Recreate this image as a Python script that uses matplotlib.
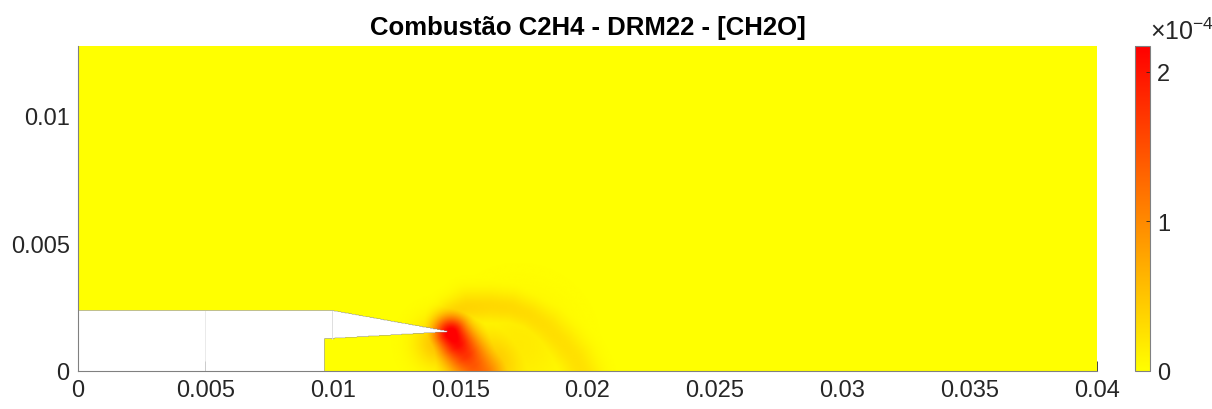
import numpy as np
import matplotlib.pyplot as plt
from matplotlib.path import Path

plt.rcParams['font.family'] = ['Liberation Sans', 'DejaVu Sans']
plt.rcParams['mathtext.fontset'] = 'custom'
plt.rcParams['mathtext.rm'] = 'Liberation Sans'
plt.rcParams['mathtext.it'] = 'Liberation Sans'

# domain (m)
x_max = 0.04
y_max = 0.0127

# splitter plate / inlet outline (white, no data)
plate_x = [-0.001, 0.00967, 0.00967, 0.0146, 0.00997, -0.001]
plate_y = [-0.001, -0.001, 0.00125, 0.00153, 0.00236, 0.00236]

# CH2O ridges: points (m), peak (x1e-4), half width (m)
core_x = [0.01465, 0.01490, 0.01520, 0.01550, 0.01575]
core_y = [0.00145, 0.00105, 0.00065, 0.00025, -0.00010]
core_v = [2.35, 2.10, 1.75, 1.45, 1.30]
core_w = [0.00050, 0.00055, 0.00060, 0.00065, 0.00070]

arc_x = [0.01440, 0.01470, 0.01530, 0.01620, 0.01700, 0.01770,
         0.01840, 0.01900, 0.01950, 0.01980]
arc_y = [0.00170, 0.00220, 0.00248, 0.00252, 0.00245, 0.00218,
         0.00170, 0.00110, 0.00050, -0.00010]
arc_v = [0.45, 0.40, 0.36, 0.33, 0.32, 0.30, 0.28, 0.27, 0.26, 0.25]
arc_w = [0.00035, 0.00040, 0.00045, 0.00045, 0.00045, 0.00045,
         0.00050, 0.00050, 0.00050, 0.00050]

# diffuse glow around the flame
glow_x = [0.01420, 0.01610, 0.01730]
glow_y = [0.00110, 0.00020, 0.00100]
glow_v = [0.55, 0.50, 0.18]
glow_w = [0.00065, 0.00095, 0.00130]

cb_ticks = [0, 1e-4, 2e-4]
cb_labels = ['0', '1', '2']
c_max = 2.17e-4


def ridge(X, Y, px, py, pv, pw):
    out = np.zeros_like(X)
    for i in range(len(px) - 1):
        dx, dy = px[i + 1] - px[i], py[i + 1] - py[i]
        t = ((X - px[i]) * dx + (Y - py[i]) * dy) / (dx * dx + dy * dy)
        t = np.clip(t, 0, 1)
        d2 = (X - px[i] - t * dx)**2 + (Y - py[i] - t * dy)**2
        v = pv[i] + t * (pv[i + 1] - pv[i])
        w = pw[i] + t * (pw[i + 1] - pw[i])
        out = np.maximum(out, v * np.exp(-d2 / (2 * w**2)))
    return out


xg = np.linspace(0, x_max, 1600)
yg = np.linspace(0, y_max, 510)
X, Y = np.meshgrid(xg, yg)
Z = np.maximum(ridge(X, Y, core_x, core_y, core_v, core_w),
               ridge(X, Y, arc_x, arc_y, arc_v, arc_w))
for gx, gy, gv, gw in zip(glow_x, glow_y, glow_v, glow_w):
    Z = np.maximum(Z, gv * np.exp(-((X - gx)**2 + (Y - gy)**2) / (2 * gw**2)))
Z = Z * 1e-4

plate = Path(list(zip(plate_x, plate_y)))
inside = plate.contains_points(np.column_stack([X.ravel(), Y.ravel()])).reshape(X.shape)
Z = np.ma.masked_where(inside, Z)

fig = plt.figure(figsize=(12.12, 4.10), dpi=100)
ax = fig.add_axes([0.0644, 0.0927, 0.8407, 0.7915])
cax = fig.add_axes([0.9365, 0.0927, 0.0124, 0.7915])

im = ax.imshow(Z, origin='lower', extent=[0, x_max, 0, y_max], cmap='autumn_r',
               vmin=0, vmax=c_max, aspect='auto', interpolation='bilinear', zorder=1)

# faint mesh edges in the white area
ax.plot([plate_x[4], plate_x[4]], [plate_y[2], plate_y[4]], color='0.85', lw=0.6, zorder=1.5)
ax.plot([0.005, 0.005], [0, plate_y[4]], color='0.9', lw=0.6, zorder=1.5)

ax.set_xlim(0, x_max)
ax.set_ylim(0, y_max)
ax.set_xticks(np.arange(0, 0.0401, 0.005))
ax.set_xticklabels(['0', '0.005', '0.01', '0.015', '0.02', '0.025', '0.03', '0.035', '0.04'])
ax.set_yticks([0, 0.005, 0.01])
ax.set_yticklabels(['0', '0.005', '0.01'])
ax.set_axisbelow(True)
ax.tick_params(direction='in', length=7, width=0.6, colors='0.15', labelsize=17, pad=6)
for s in ['top', 'right']:
    ax.spines[s].set_visible(False)
for s in ['left', 'bottom']:
    ax.spines[s].set_color('0.5')
    ax.spines[s].set_linewidth(0.8)
    ax.spines[s].set_zorder(3)

ax.set_title('Combustão C2H4 - DRM22 - [CH2O]', fontsize=18.5, fontweight='bold', pad=9)

cb = fig.colorbar(im, cax=cax)
cb.set_ticks(cb_ticks)
cb.set_ticklabels(cb_labels)
cb.outline.set_edgecolor('0.5')
cb.outline.set_linewidth(0.8)
cax.tick_params(direction='in', length=3, width=0.6, colors='0.15', labelsize=17, pad=5)
fig.text(0.949, 0.89, r'$\times10^{-4}$', fontsize=18, color='0.15', ha='left', va='bottom')

fig.savefig('out.png', dpi=100)
